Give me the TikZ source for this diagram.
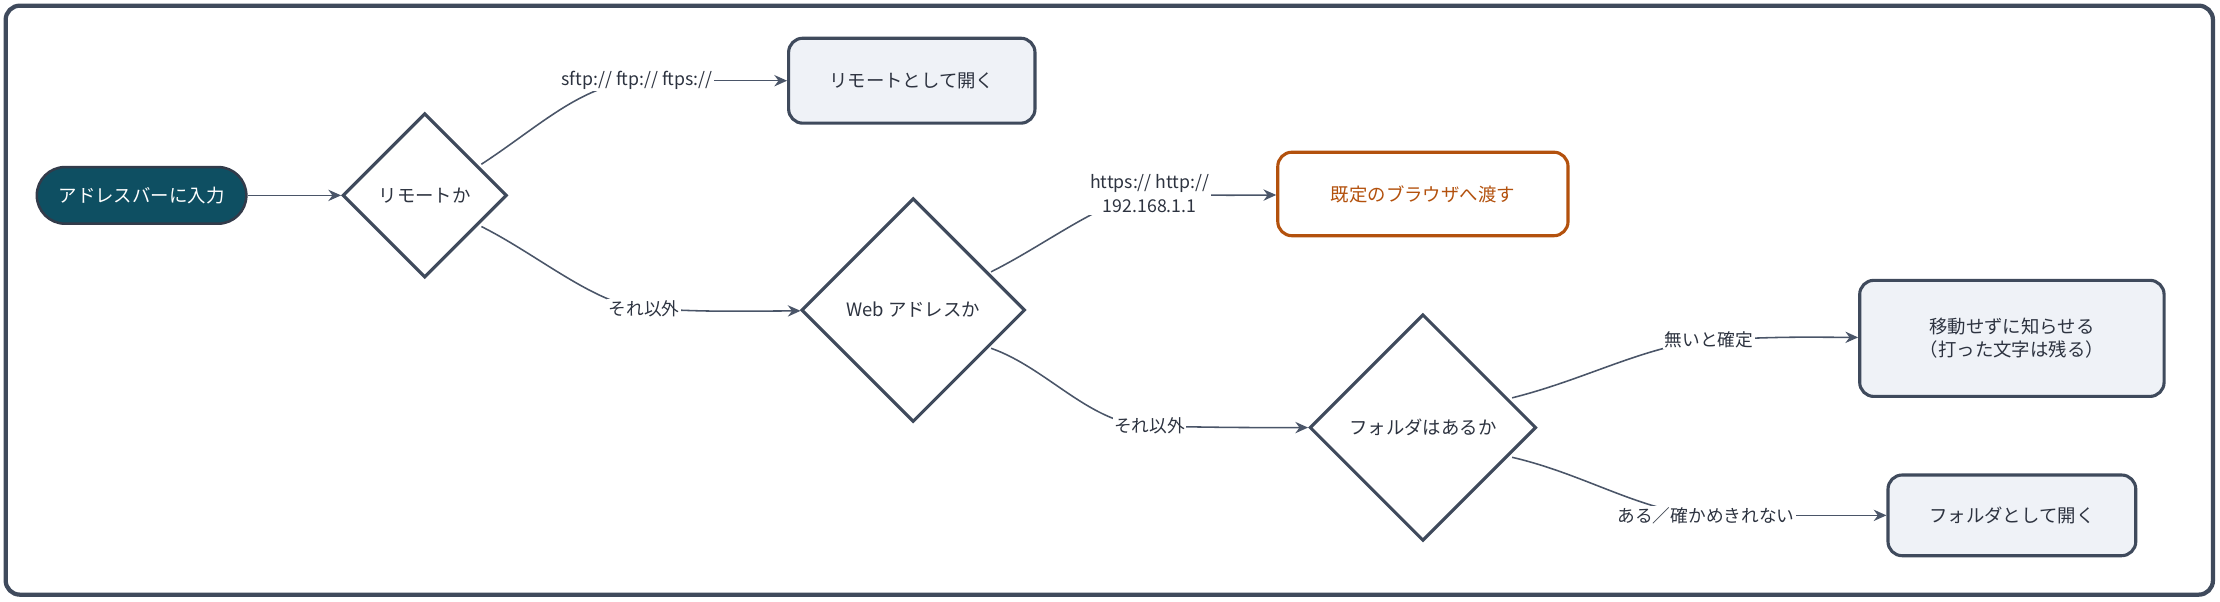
\documentclass[tikz,border=0pt]{standalone}
\usepackage{fontspec}
\setmainfont{Noto Sans CJK JP}
\usetikzlibrary{shapes.geometric,arrows.meta,calc}
\definecolor{edge}{HTML}{4A5568}
\definecolor{frame}{HTML}{3F4A5C}
\definecolor{teal}{HTML}{0E4F62}
\definecolor{boxfill}{HTML}{EFF2F7}
\definecolor{orng}{HTML}{B3510D}
\definecolor{txt}{HTML}{2D3340}
\begin{document}
\begin{tikzpicture}[x=1pt,y=-1pt,
  font=\fontsize{13}{16}\selectfont, text=txt,
  box/.style={draw=frame,line width=2.2pt,fill=boxfill,rounded corners=10pt,align=center},
  dia/.style={draw=frame,line width=2.2pt,fill=white,diamond,minimum width=#1,minimum height=#1,inner sep=0pt},
  lab/.style={fill=white,inner sep=1pt,align=center,font=\fontsize{12.5}{17}\selectfont},
  ar/.style={draw=edge,line width=1.1pt,-{Stealth[length=9pt,width=8pt]}},
  ln/.style={draw=edge,line width=1.1pt}]
\useasboundingbox (0,0) rectangle (1568,425);
\draw[frame,line width=3pt,rounded corners=10pt] (4,4) rectangle (1563,420);
\node[draw=frame!80!black,line width=1.8pt,fill=teal,text=white,rounded corners=20pt,minimum width=148pt,minimum height=40pt] (s) at (100,138) {アドレスバーに入力};
\node[dia=116pt] (d1) at (300,138) {リモートか};
\node[box,minimum width=174pt,minimum height=60pt] (b1) at (644,57) {リモートとして開く};
\node[dia=158pt] (d2) at (645,219) {Web アドレスか};
\node[box,draw=orng,fill=white,text=orng,minimum width=205pt,minimum height=59pt] (b2) at (1005,137) {既定のブラウザへ渡す};
\node[dia=160pt] (d3) at (1005,302) {フォルダはあるか};
\node[box,minimum width=215pt,minimum height=82pt] (b3) at (1421,239) {移動せずに知らせる\\（打った文字は残る）};
\node[box,minimum width=175pt,minimum height=57pt] (b4) at (1421,364) {フォルダとして開く};
\coordinate (l1) at (450,57);
\coordinate (l2) at (455,218);
\coordinate (l3) at (812,137);
\coordinate (l4) at (812,301);
\coordinate (l5) at (1207,240);
\coordinate (l6) at (1205,364);
\coordinate (a1) at ($(d1)+(40,-22)$);
\coordinate (a2) at ($(d1)+(40,22)$);
\coordinate (a3) at ($(d2)+(55,-27)$);
\coordinate (a4) at ($(d2)+(55,27)$);
\coordinate (a5) at ($(d3)+(63,-21)$);
\coordinate (a6) at ($(d3)+(63,21)$);
\draw[ar] (s) -- (d1);
\draw[ln] (a1) .. controls (380,90) and (410,60) .. (l1);
\draw[ar] (l1) -- (b1);
\draw[ln] (a2) .. controls (380,180) and (420,215) .. (l2);
\draw[ar] (l2) .. controls (500,220) .. (d2);
\draw[ln] (a3) .. controls (740,172) and (780,140) .. (l3);
\draw[ar] (l3) .. controls (860,138) .. (b2);
\draw[ln] (a4) .. controls (740,260) and (770,300) .. (l4);
\draw[ar] (l4) .. controls (870,302) .. (d3);
\draw[ln] (a5) .. controls (1120,268) and (1160,245) .. (l5);
\draw[ar] (l5) .. controls (1260,238) .. (b3);
\draw[ln] (a6) .. controls (1120,335) and (1160,362) .. (l6);
\draw[ar] (l6) .. controls (1280,364) .. (b4);
\node[lab] at (l1) {sftp:// ftp:// ftps://};
\node[lab] at (l2) {それ以外};
\node[lab] at (l3) {https:// http://\\192.168.1.1};
\node[lab] at (l4) {それ以外};
\node[lab] at (l5) {無いと確定};
\node[lab] at (l6) {ある／確かめきれない};
\end{tikzpicture}
\end{document}
